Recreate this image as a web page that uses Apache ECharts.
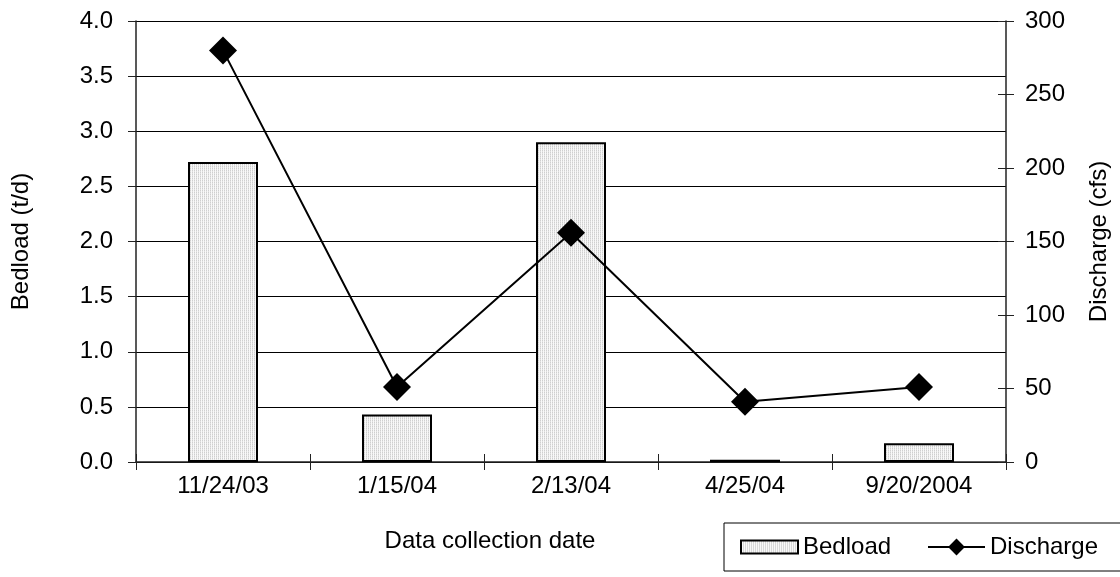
<!DOCTYPE html>
<html>
<head>
<meta charset="utf-8">
<script src="https://cdn.jsdelivr.net/npm/echarts@6/dist/echarts.min.js"></script>
<style>
  html, body { margin: 0; padding: 0; background: #fff; }
  #chart { width: 1120px; height: 577px; }
</style>
</head>
<body>
<div id="chart"></div>
<script>
// Sampling dates and measured values
const categories = ['11/24/03', '1/15/04', '2/13/04', '4/25/04', '9/20/2004'];
const bedload = [2.72, 0.43, 2.90, 0.02, 0.17];     // t/d
const discharge = [280, 51, 156, 41, 51];           // cfs

const leftTicks = { min: 0, max: 4, interval: 0.5 };
const rightTicks = { min: 0, max: 300, interval: 50 };

// Fine dotted fill for the bedload bars
function dotPattern() {
  const c = document.createElement('canvas');
  c.width = 2; c.height = 2;
  const g = c.getContext('2d');
  g.fillStyle = '#f8f8f8';
  g.fillRect(0, 0, 2, 2);
  g.fillStyle = '#cfcfcf';
  g.fillRect(0, 0, 1, 1);
  g.fillStyle = '#e2e2e2';
  g.fillRect(0, 1, 1, 1);
  return c;
}

const font = 'Liberation Sans, Arial, sans-serif';
const fs = 24;
const chart = echarts.init(document.getElementById('chart'), null, { renderer: 'canvas' });

chart.setOption({
  animation: false,
  backgroundColor: '#fff',
  textStyle: { fontFamily: font, color: '#000' },
  grid: { left: 136, right: 114, top: 21, bottom: 115 },
  legend: [
    {
      // framed box, holds the bar entry
      left: 724,
      top: 523,
      padding: [12, 260, 12, 16],
      itemWidth: 57,
      itemHeight: 13,
      borderColor: '#000',
      borderWidth: 1,
      textStyle: { fontFamily: font, fontSize: fs, color: '#000' },
      data: [{ name: 'Bedload', icon: 'rect' }]
    },
    {
      left: 927,
      top: 535,
      padding: 0,
      itemWidth: 57,
      itemHeight: 21,
      textStyle: { fontFamily: font, fontSize: fs, color: '#000' },
      data: ['Discharge']
    }
  ],
  xAxis: [
    {
      type: 'category',
      data: categories,
      boundaryGap: true,
      name: 'Data collection date',
      nameLocation: 'middle',
      nameGap: 67,
      nameTextStyle: { fontFamily: font, fontSize: fs, color: '#000', padding: [0, 162, 0, 0] },
      axisLine: { lineStyle: { color: '#222', width: 1.5 } },
      axisTick: { show: true, inside: false, length: 8, lineStyle: { color: '#222', width: 1 } },
      axisLabel: { fontFamily: font, fontSize: fs, color: '#000', margin: 12 },
      splitLine: { show: false }
    },
    {
      // inner half of the crossing category ticks
      type: 'category',
      data: categories,
      position: 'bottom',
      boundaryGap: true,
      axisLine: { show: false },
      axisTick: { show: true, inside: true, length: 8, lineStyle: { color: '#222', width: 1 } },
      axisLabel: { show: false },
      splitLine: { show: false }
    }
  ],
  yAxis: [
    {
      type: 'value',
      min: leftTicks.min, max: leftTicks.max, interval: leftTicks.interval,
      position: 'left',
      name: 'Bedload (t/d)',
      nameLocation: 'middle',
      nameGap: 103,
      nameRotate: 90,
      nameTextStyle: { fontFamily: font, fontSize: fs, color: '#000' },
      axisLine: { show: true, lineStyle: { color: '#222', width: 1.5 } },
      axisTick: { show: true, inside: false, length: 8, lineStyle: { color: '#222', width: 1 } },
      axisLabel: { fontFamily: font, fontSize: fs, color: '#000', margin: 23,
                   formatter: v => v.toFixed(1) },
      splitLine: { show: true, lineStyle: { color: '#000', width: 1 } }
    },
    {
      type: 'value',
      min: rightTicks.min, max: rightTicks.max, interval: rightTicks.interval,
      position: 'right',
      name: 'Discharge (cfs)',
      nameLocation: 'middle',
      nameGap: 81,
      nameRotate: 90,
      nameTextStyle: { fontFamily: font, fontSize: fs, color: '#000' },
      axisLine: { show: true, lineStyle: { color: '#222', width: 1.5 } },
      axisTick: { show: true, inside: false, length: 8, lineStyle: { color: '#222', width: 1 } },
      axisLabel: { fontFamily: font, fontSize: fs, color: '#000', margin: 19 },
      splitLine: { show: false }
    },
    {
      // inner half of the crossing ticks on the discharge axis
      type: 'value',
      min: rightTicks.min, max: rightTicks.max, interval: rightTicks.interval,
      position: 'right',
      axisLine: { show: false },
      axisTick: { show: true, inside: true, length: 8, lineStyle: { color: '#222', width: 1 } },
      axisLabel: { show: false },
      splitLine: { show: false }
    }
  ],
  series: [
    {
      name: 'Bedload',
      type: 'bar',
      xAxisIndex: 0,
      yAxisIndex: 0,
      data: bedload,
      barWidth: 70,
      itemStyle: {
        color: { image: dotPattern(), repeat: 'repeat' },
        borderColor: '#000',
        borderWidth: 2
      },
      z: 2
    },
    {
      name: 'Discharge',
      type: 'line',
      xAxisIndex: 0,
      yAxisIndex: 1,
      data: discharge,
      symbol: 'diamond',
      symbolSize: 28,
      lineStyle: { color: '#000', width: 2 },
      itemStyle: { color: '#000', borderColor: '#000', borderWidth: 0 },
      z: 3
    }
  ]
});
</script>
</body>
</html>
